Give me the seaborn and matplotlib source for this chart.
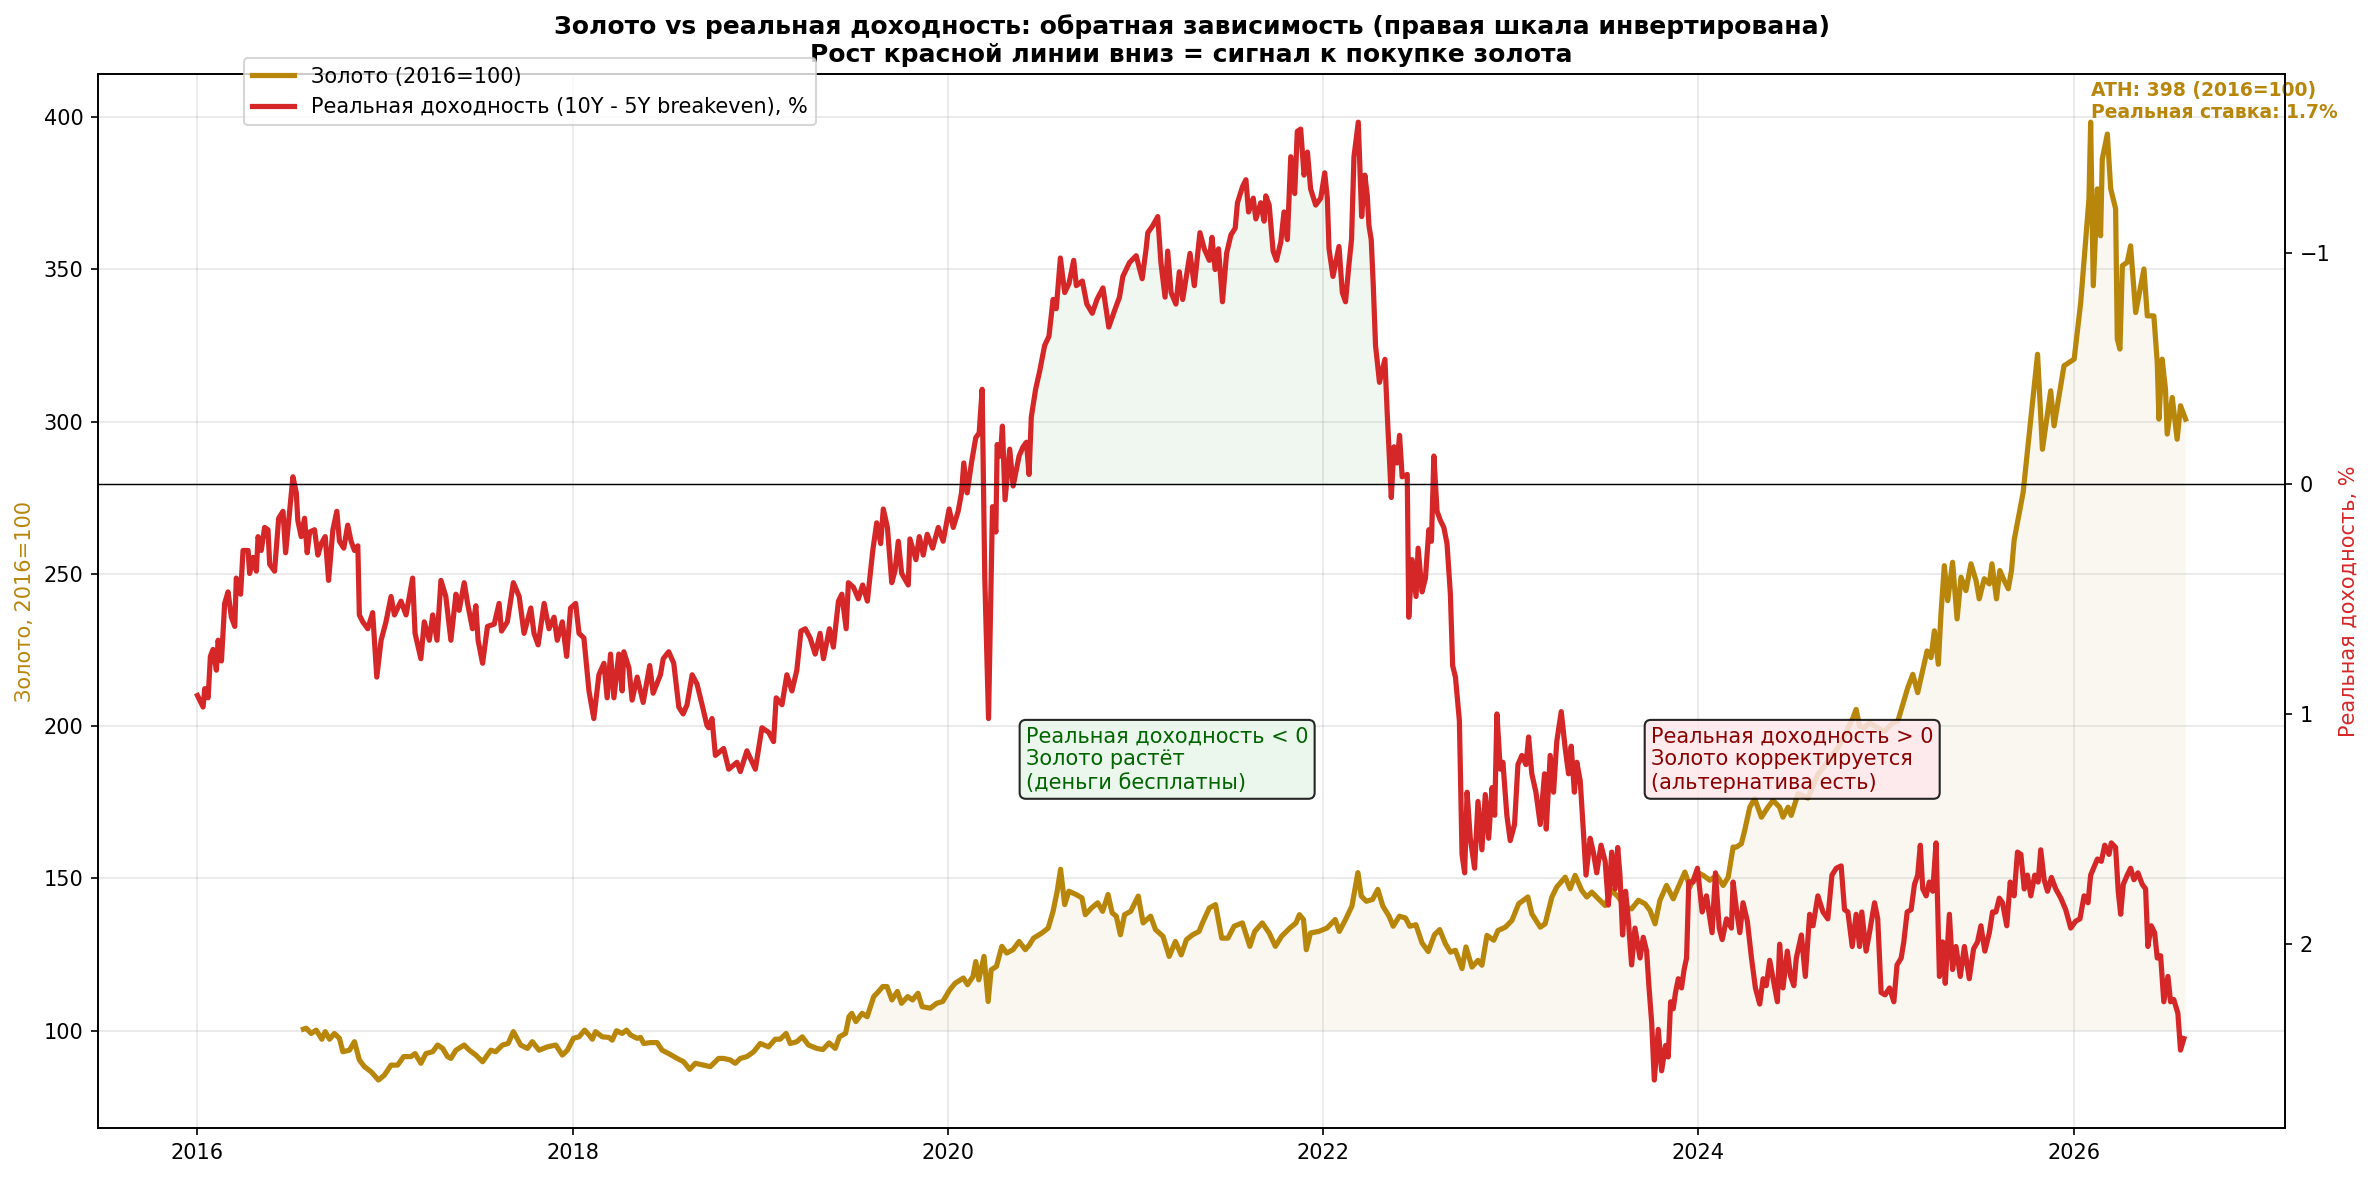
import numpy as np
import pandas as pd
import matplotlib
matplotlib.use("Agg")
import matplotlib.pyplot as plt
import matplotlib.dates as mdates
import seaborn as sns

GOLD_C = "#b8860b"
RED_C = "#d62728"

# real yield (10Y - 5Y breakeven), %  -- time as years since 2016-01-01
ry_t = [
    0.000, 0.030, 0.039, 0.057, 0.069, 0.083, 0.101, 0.110, 0.128, 0.145, 0.163, 0.181,
    0.199, 0.207, 0.230, 0.243, 0.270, 0.278, 0.296, 0.314, 0.323, 0.340, 0.358, 0.376,
    0.385, 0.411, 0.433, 0.456, 0.470, 0.491, 0.509, 0.527, 0.535, 0.553, 0.571, 0.585,
    0.598, 0.624, 0.642, 0.660, 0.681, 0.699, 0.722, 0.743, 0.757, 0.780, 0.801, 0.819,
    0.837, 0.855, 0.863, 0.881, 0.908, 0.934, 0.956, 0.979, 1.005, 1.032, 1.050, 1.085,
    1.112, 1.147, 1.160, 1.191, 1.209, 1.236, 1.254, 1.277, 1.298, 1.324, 1.351, 1.378,
    1.395, 1.422, 1.440, 1.466, 1.484, 1.496, 1.520, 1.546, 1.582, 1.608, 1.621, 1.652,
    1.684, 1.715, 1.741, 1.777, 1.794, 1.816, 1.848, 1.874, 1.901, 1.918, 1.945, 1.968,
    1.989, 2.016, 2.034, 2.060, 2.087, 2.113, 2.140, 2.167, 2.184, 2.202, 2.220, 2.246,
    2.264, 2.273, 2.300, 2.317, 2.344, 2.376, 2.411, 2.429, 2.468, 2.483, 2.512, 2.539,
    2.566, 2.589, 2.610, 2.637, 2.663, 2.690, 2.716, 2.725, 2.743, 2.761, 2.805, 2.832,
    2.876, 2.894, 2.929, 2.974, 3.009, 3.045, 3.071, 3.085, 3.116, 3.142, 3.169, 3.195,
    3.217, 3.240, 3.266, 3.293, 3.319, 3.337, 3.369, 3.390, 3.417, 3.435, 3.458, 3.470,
    3.497, 3.523, 3.546, 3.571, 3.600, 3.621, 3.642, 3.656, 3.678, 3.701, 3.718, 3.736,
    3.754, 3.789, 3.798, 3.830, 3.848, 3.869, 3.890, 3.919, 3.949, 3.975, 4.007, 4.029,
    4.055, 4.073, 4.085, 4.103, 4.126, 4.149, 4.167, 4.183, 4.197, 4.217, 4.238, 4.256,
    4.263, 4.280, 4.291, 4.305, 4.330, 4.348, 4.380, 4.401, 4.419, 4.433, 4.445, 4.468,
    4.490, 4.516, 4.539, 4.561, 4.578, 4.600, 4.623, 4.646, 4.671, 4.685, 4.717, 4.741,
    4.770, 4.795, 4.827, 4.858, 4.888, 4.915, 4.933, 4.968, 5.004, 5.036, 5.057, 5.066,
    5.092, 5.119, 5.136, 5.158, 5.172, 5.190, 5.216, 5.234, 5.252, 5.291, 5.314, 5.344,
    5.367, 5.394, 5.408, 5.425, 5.443, 5.464, 5.486, 5.509, 5.532, 5.544, 5.571, 5.589,
    5.603, 5.628, 5.642, 5.668, 5.686, 5.695, 5.713, 5.734, 5.752, 5.775, 5.792, 5.810,
    5.828, 5.849, 5.863, 5.881, 5.899, 5.917, 5.934, 5.961, 5.988, 6.009, 6.023, 6.032,
    6.053, 6.085, 6.103, 6.120, 6.138, 6.152, 6.165, 6.188, 6.206, 6.223, 6.236, 6.245,
    6.257, 6.268, 6.280, 6.301, 6.330, 6.342, 6.364, 6.378, 6.395, 6.408, 6.422, 6.449,
    6.457, 6.475, 6.496, 6.507, 6.528, 6.546, 6.564, 6.578, 6.591, 6.608, 6.626, 6.644,
    6.661, 6.679, 6.691, 6.706, 6.727, 6.741, 6.755, 6.768, 6.785, 6.808, 6.826, 6.847,
    6.865, 6.883, 6.901, 6.915, 6.927, 6.945, 6.959, 6.980, 6.998, 7.021, 7.039, 7.060,
    7.082, 7.096, 7.113, 7.135, 7.158, 7.181, 7.190, 7.211, 7.229, 7.246, 7.270, 7.291,
    7.309, 7.323, 7.340, 7.353, 7.371, 7.388, 7.402, 7.424, 7.441, 7.459, 7.482, 7.504,
    7.521, 7.539, 7.557, 7.571, 7.583, 7.597, 7.613, 7.628, 7.645, 7.663, 7.690, 7.707,
    7.725, 7.738, 7.752, 7.766, 7.787, 7.805, 7.826, 7.840, 7.853, 7.867, 7.879, 7.894,
    7.911, 7.925, 7.938, 7.950, 7.973, 7.996, 8.021, 8.044, 8.074, 8.092, 8.112, 8.128,
    8.151, 8.177, 8.186, 8.204, 8.222, 8.239, 8.262, 8.284, 8.305, 8.328, 8.346, 8.363,
    8.381, 8.399, 8.422, 8.434, 8.452, 8.475, 8.493, 8.510, 8.523, 8.550, 8.571, 8.594,
    8.612, 8.638, 8.665, 8.691, 8.713, 8.736, 8.762, 8.780, 8.798, 8.821, 8.842, 8.860,
    8.872, 8.895, 8.913, 8.940, 8.957, 8.975, 8.996, 9.020, 9.043, 9.060, 9.082, 9.096,
    9.114, 9.135, 9.153, 9.170, 9.184, 9.197, 9.215, 9.232, 9.250, 9.268, 9.286, 9.303,
    9.317, 9.339, 9.356, 9.374, 9.397, 9.419, 9.445, 9.468, 9.489, 9.507, 9.528, 9.552,
    9.569, 9.587, 9.605, 9.622, 9.645, 9.663, 9.684, 9.702, 9.720, 9.738, 9.755, 9.773,
    9.794, 9.812, 9.826, 9.844, 9.862, 9.883, 9.906, 9.933, 9.959, 9.986, 10.012, 10.035,
    10.057, 10.078, 10.092, 10.128, 10.149, 10.167, 10.190, 10.202, 10.225, 10.239, 10.252,
    10.266, 10.287, 10.305, 10.323, 10.344, 10.367, 10.385, 10.397, 10.415, 10.433, 10.447,
    10.465, 10.482, 10.504, 10.518, 10.535, 10.557, 10.571, 10.589,
]
ry_v = [
    0.92, 0.97, 0.89, 0.93, 0.75, 0.72, 0.81, 0.68, 0.77, 0.52, 0.47, 0.58,
    0.62, 0.41, 0.48, 0.29, 0.29, 0.39, 0.32, 0.38, 0.23, 0.29, 0.19, 0.20,
    0.35, 0.38, 0.15, 0.12, 0.30, 0.12, -0.03, 0.04, 0.16, 0.23, 0.15, 0.30,
    0.21, 0.20, 0.31, 0.26, 0.23, 0.42, 0.20, 0.12, 0.25, 0.28, 0.18, 0.25,
    0.29, 0.27, 0.57, 0.60, 0.63, 0.56, 0.84, 0.68, 0.60, 0.49, 0.57, 0.51,
    0.57, 0.41, 0.65, 0.76, 0.60, 0.68, 0.57, 0.68, 0.42, 0.49, 0.68, 0.48,
    0.55, 0.43, 0.52, 0.63, 0.53, 0.68, 0.78, 0.62, 0.61, 0.52, 0.64, 0.60,
    0.43, 0.49, 0.65, 0.54, 0.65, 0.70, 0.52, 0.63, 0.58, 0.68, 0.60, 0.75,
    0.54, 0.52, 0.65, 0.67, 0.90, 1.02, 0.83, 0.78, 0.93, 0.74, 0.93, 0.74,
    0.90, 0.73, 0.80, 0.94, 0.84, 0.95, 0.79, 0.91, 0.83, 0.76, 0.73, 0.78,
    0.97, 1.00, 0.96, 0.83, 0.87, 0.96, 1.05, 1.06, 1.02, 1.18, 1.15, 1.24,
    1.21, 1.25, 1.16, 1.24, 1.06, 1.08, 1.12, 0.93, 0.96, 0.83, 0.90, 0.81,
    0.64, 0.63, 0.67, 0.74, 0.65, 0.76, 0.63, 0.71, 0.51, 0.48, 0.63, 0.43,
    0.45, 0.50, 0.44, 0.51, 0.29, 0.17, 0.26, 0.11, 0.19, 0.43, 0.38, 0.25,
    0.39, 0.44, 0.24, 0.33, 0.23, 0.31, 0.22, 0.28, 0.19, 0.25, 0.11, 0.19,
    0.12, 0.04, -0.09, 0.04, -0.09, -0.20, -0.22, -0.41, 0.41, 1.02, 0.10, 0.21,
    -0.17, -0.12, -0.25, 0.07, -0.15, 0.01, -0.12, -0.16, -0.18, -0.04, -0.29, -0.41,
    -0.49, -0.60, -0.64, -0.80, -0.76, -0.98, -0.83, -0.87, -0.97, -0.86, -0.88, -0.78,
    -0.74, -0.80, -0.85, -0.68, -0.75, -0.81, -0.90, -0.96, -0.99, -0.89, -1.02, -1.09,
    -1.12, -1.16, -0.96, -0.81, -1.01, -0.83, -0.78, -0.92, -0.80, -1.00, -0.86, -1.09,
    -1.02, -0.97, -1.07, -0.93, -1.02, -0.79, -1.00, -1.08, -1.11, -1.22, -1.29, -1.32,
    -1.18, -1.24, -1.15, -1.22, -1.14, -1.25, -1.21, -1.01, -0.97, -1.05, -1.18, -1.06,
    -1.42, -1.26, -1.53, -1.54, -1.34, -1.44, -1.28, -1.21, -1.24, -1.35, -1.24, -1.02,
    -0.90, -1.03, -0.83, -0.79, -0.95, -1.06, -1.42, -1.57, -1.16, -1.34, -1.25, -1.12,
    -1.06, -0.86, -0.60, -0.44, -0.54, -0.31, 0.06, -0.16, -0.09, -0.21, -0.03, -0.04,
    0.58, 0.33, 0.49, 0.28, 0.47, 0.41, 0.20, 0.25, -0.12, 0.12, 0.16, 0.19,
    0.26, 0.48, 0.79, 0.84, 1.03, 1.61, 1.69, 1.34, 1.54, 1.67, 1.38, 1.59,
    1.35, 1.54, 1.32, 1.44, 1.00, 1.24, 1.21, 1.44, 1.55, 1.48, 1.22, 1.18,
    1.22, 1.10, 1.26, 1.34, 1.48, 1.26, 1.50, 1.18, 1.34, 1.12, 0.99, 1.15,
    1.26, 1.14, 1.34, 1.21, 1.29, 1.51, 1.70, 1.54, 1.60, 1.69, 1.57, 1.64,
    1.83, 1.60, 1.76, 1.58, 1.70, 1.96, 1.77, 1.90, 2.09, 1.93, 2.06, 1.97,
    2.03, 2.19, 2.34, 2.59, 2.37, 2.55, 2.44, 2.49, 2.25, 2.28, 2.21, 2.15,
    2.19, 2.11, 2.06, 1.73, 1.73, 1.67, 1.86, 1.79, 1.95, 1.69, 1.93, 1.98,
    1.89, 1.93, 1.73, 1.85, 1.95, 1.82, 1.90, 2.06, 2.19, 2.26, 2.15, 2.18,
    2.07, 2.15, 2.25, 2.00, 2.19, 2.03, 2.14, 2.18, 2.06, 1.96, 2.14, 1.87,
    1.92, 1.79, 1.86, 1.89, 1.70, 1.67, 1.66, 1.85, 1.86, 2.01, 1.87, 2.01,
    1.86, 2.03, 1.95, 1.82, 1.89, 2.21, 2.22, 2.19, 2.25, 2.09, 2.06, 1.99,
    1.86, 1.85, 1.74, 1.70, 1.57, 1.76, 1.79, 1.73, 1.77, 1.56, 2.14, 1.99,
    2.17, 1.87, 2.11, 2.01, 2.14, 2.01, 2.15, 2.02, 1.99, 1.92, 2.03, 1.95,
    1.86, 1.86, 1.80, 1.82, 1.92, 1.73, 1.79, 1.60, 1.61, 1.76, 1.70, 1.79,
    1.70, 1.73, 1.59, 1.72, 1.77, 1.71, 1.76, 1.80, 1.85, 1.93, 1.90, 1.89,
    1.79, 1.82, 1.70, 1.63, 1.64, 1.57, 1.61, 1.56, 1.58, 1.77, 1.87,
    1.74, 1.70, 1.67, 1.72, 1.69, 1.74, 1.76, 2.01, 1.92, 1.95, 2.06,
    2.05, 2.25, 2.14, 2.25, 2.24, 2.30, 2.46, 2.41,
]

# gold index (2016=100) -- time as years since 2016-01-01
gold_t = [
    0.565, 0.580, 0.606, 0.633, 0.663, 0.681, 0.704, 0.730, 0.757, 0.775, 0.810, 0.837,
    0.863, 0.890, 0.926, 0.965, 0.996, 1.032, 1.067, 1.099, 1.138, 1.160, 1.191, 1.218,
    1.254, 1.280, 1.307, 1.333, 1.351, 1.378, 1.422, 1.449, 1.484, 1.520, 1.564, 1.590,
    1.626, 1.656, 1.684, 1.723, 1.759, 1.785, 1.821, 1.865, 1.910, 1.945, 1.972, 2.004,
    2.034, 2.064, 2.087, 2.105, 2.122, 2.158, 2.193, 2.211, 2.234, 2.264, 2.287, 2.309,
    2.344, 2.362, 2.379, 2.415, 2.450, 2.477, 2.512, 2.557, 2.592, 2.624, 2.654, 2.699,
    2.734, 2.778, 2.805, 2.840, 2.867, 2.894, 2.929, 2.965, 3.000, 3.044, 3.080, 3.106,
    3.138, 3.160, 3.195, 3.224, 3.257, 3.301, 3.334, 3.367, 3.400, 3.422, 3.455, 3.473,
    3.488, 3.510, 3.543, 3.570, 3.605, 3.631, 3.653, 3.676, 3.702, 3.731, 3.753, 3.786,
    3.812, 3.841, 3.863, 3.907, 3.940, 3.973, 4.010, 4.039, 4.083, 4.105, 4.134, 4.149,
    4.165, 4.193, 4.215, 4.231, 4.259, 4.288, 4.314, 4.347, 4.380, 4.413, 4.435, 4.457,
    4.502, 4.535, 4.561, 4.583, 4.601, 4.623, 4.645, 4.684, 4.715, 4.733, 4.766, 4.799,
    4.825, 4.854, 4.876, 4.898, 4.920, 4.942, 4.975, 5.015, 5.041, 5.081, 5.107, 5.147,
    5.180, 5.213, 5.244, 5.272, 5.305, 5.339, 5.361, 5.394, 5.427, 5.460, 5.493, 5.526,
    5.570, 5.610, 5.636, 5.676, 5.713, 5.746, 5.779, 5.823, 5.856, 5.874, 5.896, 5.911,
    5.933, 5.977, 6.021, 6.065, 6.087, 6.120, 6.154, 6.186, 6.204, 6.231, 6.264, 6.292,
    6.319, 6.352, 6.374, 6.407, 6.440, 6.462, 6.495, 6.528, 6.561, 6.594, 6.622, 6.652,
    6.679, 6.706, 6.741, 6.762, 6.794, 6.826, 6.847, 6.874, 6.910, 6.933, 6.972, 7.007,
    7.043, 7.092, 7.113, 7.158, 7.184, 7.220, 7.246, 7.291, 7.317, 7.344, 7.379, 7.406,
    7.433, 7.468, 7.504, 7.539, 7.574, 7.610, 7.645, 7.681, 7.716, 7.743, 7.770, 7.796,
    7.831, 7.867, 7.894, 7.929, 7.956, 7.991, 8.027, 8.062, 8.098, 8.133, 8.160, 8.186,
    8.204, 8.230, 8.248, 8.275, 8.301, 8.337, 8.372, 8.399, 8.434, 8.452, 8.479, 8.496,
    8.532, 8.585, 8.638, 8.692, 8.745, 8.798, 8.825, 8.842, 8.860, 8.887, 8.913, 8.957,
    8.993, 9.037, 9.064, 9.096, 9.117, 9.144, 9.170, 9.192, 9.220, 9.241, 9.259, 9.280,
    9.294, 9.312, 9.330, 9.356, 9.380, 9.401, 9.427, 9.454, 9.481, 9.498, 9.525, 9.552,
    9.566, 9.590, 9.608, 9.631, 9.653, 9.670, 9.684, 9.732, 9.809, 9.835, 9.879, 9.897,
    9.950, 10.004, 10.039, 10.083, 10.092, 10.106, 10.128, 10.145, 10.154, 10.181, 10.199,
    10.225, 10.234, 10.248, 10.261, 10.287, 10.305, 10.332, 10.376, 10.394, 10.429, 10.447,
    10.456, 10.473, 10.491, 10.500, 10.527, 10.553, 10.571, 10.598,
]
gold_v = [
    100.5, 100.8, 99.1, 100.2, 97.2, 99.7, 97.2, 99.1, 97.5, 93.1, 93.6, 96.4,
    90.4, 88.2, 86.5, 83.8, 85.4, 88.7, 88.7, 91.5, 91.5, 92.5, 89.3, 92.5,
    93.1, 95.3, 94.2, 91.5, 90.9, 93.6, 95.3, 93.6, 92.0, 89.8, 93.6, 93.1,
    95.3, 95.8, 99.7, 95.3, 94.2, 96.4, 93.6, 94.7, 95.3, 92.0, 93.6, 97.5,
    98.0, 100.2, 98.6, 97.2, 99.7, 98.0, 97.8, 96.9, 100.0, 99.1, 100.2, 98.6,
    97.5, 97.8, 95.8, 96.1, 96.1, 93.6, 92.5, 90.9, 89.8, 87.3, 89.3, 88.7,
    88.2, 90.9, 90.9, 90.4, 89.3, 90.9, 91.5, 93.1, 95.8, 94.7, 97.2, 97.2,
    99.1, 95.8, 96.4, 98.0, 95.3, 94.2, 93.8, 96.0, 94.2, 98.0, 99.1, 104.6,
    105.7, 103.0, 105.7, 104.6, 111.2, 112.9, 114.5, 114.5, 110.1, 112.9, 109.0, 111.2,
    110.1, 112.3, 107.9, 107.4, 109.0, 109.6, 113.4, 115.6, 117.3, 115.1, 117.8, 122.7,
    116.7, 124.4, 109.6, 120.0, 121.1, 127.7, 125.5, 126.6, 129.3, 126.6, 128.2, 130.4,
    132.1, 133.7, 139.2, 145.8, 153.0, 141.4, 145.8, 144.7, 143.6, 138.1, 140.3, 142.0,
    139.2, 144.7, 138.7, 137.6, 131.5, 138.1, 139.2, 144.2, 135.4, 137.6, 133.2, 131.0,
    124.4, 129.3, 124.9, 129.9, 131.5, 132.6, 135.9, 140.3, 141.4, 130.4, 130.4, 134.3,
    135.4, 127.7, 132.6, 135.4, 132.1, 127.7, 131.0, 133.7, 135.4, 138.1, 136.5, 126.6,
    132.1, 132.6, 133.7, 136.5, 132.6, 136.5, 140.9, 151.9, 144.2, 142.5, 143.1, 146.4,
    140.9, 137.6, 134.3, 137.6, 137.0, 134.3, 134.8, 128.8, 126.0, 131.5, 133.2, 128.6,
    125.8, 126.4, 120.4, 127.5, 120.9, 123.1, 121.5, 131.3, 129.7, 132.9, 134.0, 136.2,
    141.7, 143.9, 138.4, 134.0, 135.1, 143.9, 147.2, 150.4, 146.6, 151.0, 146.1, 143.9,
    145.5, 143.3, 141.1, 146.1, 143.9, 140.6, 140.0, 142.8, 141.7, 139.5, 135.1, 142.8,
    147.7, 143.3, 147.2, 152.1, 147.2, 152.1, 151.0, 149.4, 151.0, 147.7, 150.4, 160.3,
    160.3, 161.4, 165.8, 173.4, 176.2, 170.1, 173.4, 175.6, 173.4, 170.1, 173.4, 170.7,
    177.8, 176.4, 184.1, 188.5, 192.9, 199.4, 202.7, 205.5, 200.0, 199.4, 201.1, 199.4,
    198.3, 201.1, 201.6, 208.2, 212.6, 217.0, 211.0, 217.0, 224.7, 222.5, 231.3, 220.3,
    236.8, 252.7, 241.2, 253.8, 235.2, 248.9, 244.5, 253.3, 247.8, 241.8, 248.4, 246.7,
    253.3, 241.8, 251.1, 247.8, 245.1, 251.1, 261.0, 276.7, 322.1, 290.9, 310.1, 298.6,
    318.3, 320.5, 339.1, 373.1, 398.3, 344.6, 376.4, 361.0, 386.2, 394.4, 376.4,
    369.9, 327.1, 323.8, 351.2, 352.3, 357.7, 335.8, 350.1, 334.7, 334.7, 319.4,
    300.8, 320.5, 310.6, 295.9, 307.9, 294.2, 305.2, 300.8,
]


def to_dates(t):
    return pd.Timestamp("2016-01-01") + pd.to_timedelta(np.asarray(t) * 365.25, unit="D")


ry = pd.DataFrame({"date": to_dates(ry_t), "val": ry_v})
gold = pd.DataFrame({"date": to_dates(gold_t), "val": gold_v})

fig, ax1 = plt.subplots(figsize=(2374 / 150, 1179 / 150), dpi=150)
fig.subplots_adjust(left=0.0413, right=0.9625, top=0.937, bottom=0.0433)
ax2 = ax1.twinx()

sns.lineplot(data=gold, x="date", y="val", ax=ax1, color=GOLD_C, lw=2.5,
             label="Золото (2016=100)", legend=False)
ax1.fill_between(gold["date"], gold["val"], 100, where=gold["val"] > 100,
                 color=GOLD_C, alpha=0.06, interpolate=True, lw=0)

sns.lineplot(data=ry, x="date", y="val", ax=ax2, color=RED_C, lw=2.5,
             label="Реальная доходность (10Y - 5Y breakeven), %", legend=False)
ax2.fill_between(ry["date"], ry["val"], 0, where=ry["val"] < 0,
                 color="green", alpha=0.06, interpolate=True, lw=0)
ax2.axhline(0, color="black", lw=0.7)
ax2.invert_yaxis()

ax1.set_xlabel("")
ax1.set_ylabel("Золото, 2016=100", color=GOLD_C, fontsize=10)
ax2.set_ylabel("Реальная доходность, %", color=RED_C, fontsize=10)
ax1.grid(True, alpha=0.3)
ax1.xaxis.set_major_locator(mdates.YearLocator(2))
ax1.xaxis.set_major_formatter(mdates.DateFormatter("%Y"))

ax1.set_title("Золото vs реальная доходность: обратная зависимость (правая шкала инвертирована)\n"
              "Рост красной линии вниз = сигнал к покупке золота",
              fontsize=12, fontweight="bold")

# ATH label
i_ath = gold["val"].idxmax()
ath_date = gold.loc[i_ath, "date"]
ath_val = gold.loc[i_ath, "val"]
ath_rate = np.interp(ath_date.value, ry["date"].astype("int64"), ry["val"])
ax1.text(ath_date, ath_val, f"ATH: {ath_val:.0f} (2016=100)\nРеальная ставка: {ath_rate:.1f}%",
         color=GOLD_C, fontsize=9, fontweight="bold", ha="left", va="bottom")

ax1.text(pd.Timestamp("2020-06-01"), 200,
         "Реальная доходность < 0\nЗолото растёт\n(деньги бесплатны)",
         color="darkgreen", fontsize=10, ha="left", va="top",
         bbox=dict(boxstyle="round,pad=0.3", facecolor="#e8f5e9", edgecolor="black", alpha=0.85))
ax1.text(pd.Timestamp("2023-10-01"), 200,
         "Реальная доходность > 0\nЗолото корректируется\n(альтернатива есть)",
         color="darkred", fontsize=10, ha="left", va="top",
         bbox=dict(boxstyle="round,pad=0.3", facecolor="#fde8ec", edgecolor="black", alpha=0.85))

h1, l1 = ax1.get_legend_handles_labels()
h2, l2 = ax2.get_legend_handles_labels()
ax2.legend(h1 + h2, l1 + l2, loc="upper left", bbox_to_anchor=(0.062, 1.025), fontsize=10)

fig.savefig("out.png", dpi=150)
